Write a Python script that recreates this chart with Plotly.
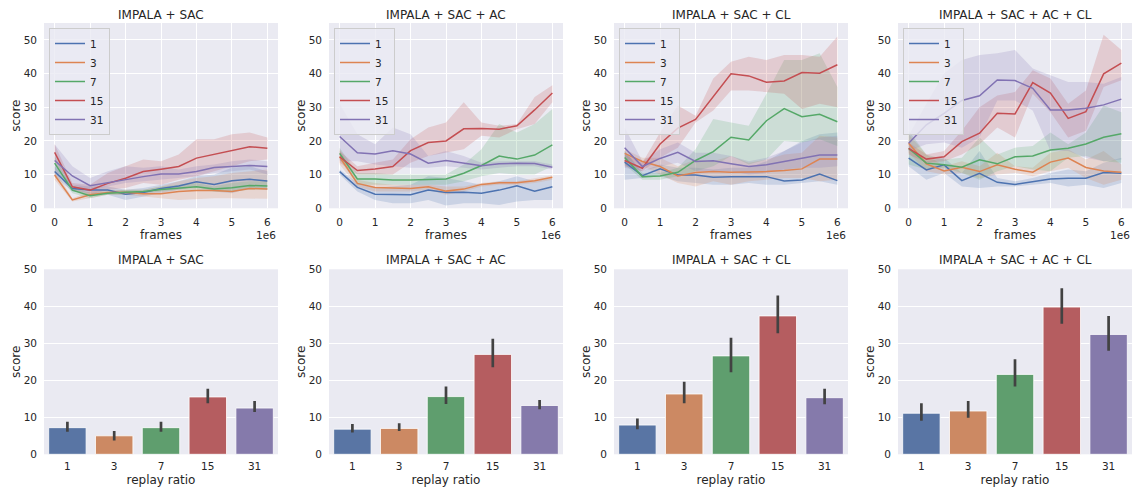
import plotly.graph_objects as go

W, H = 1134, 487

TITLES = ["IMPALA + SAC", "IMPALA + SAC + AC", "IMPALA + SAC + CL", "IMPALA + SAC + AC + CL"]
RATIOS = ["1", "3", "7", "15", "31"]
FRAMES = [0, 500000, 1000000, 1500000, 2000000, 2500000, 3000000,
          3500000, 4000000, 4500000, 5000000, 5500000, 6000000]
FRAME_TICKS = [0, 1000000, 2000000, 3000000, 4000000, 5000000, 6000000]
FRAME_TICKTEXT = ["0", "1", "2", "3", "4", "5", "6"]
LINE_COLORS = ["#4c72b0", "#dd8452", "#55a868", "#c44e52", "#8172b3"]
BAND_COLORS = ["rgba(76,114,176,0.2)", "rgba(221,132,82,0.2)", "rgba(85,168,104,0.2)",
               "rgba(196,78,82,0.2)", "rgba(129,114,179,0.2)"]
BAR_COLORS = ["#5975a4", "#cc8963", "#5f9e6e", "#b55d60", "#857aab"]

# ---- IMPALA + SAC (learning curves) ----
P1_MEAN = [
    [10.9, 5.9, 5.4, 5.4, 4.2, 4.7, 5.9, 6.6, 7.9, 7.1, 8.2, 8.6, 8.1],
    [9.9, 2.5, 4.0, 4.7, 4.8, 4.3, 4.3, 5.0, 5.3, 5.3, 5.0, 5.9, 5.7],
    [13.4, 5.4, 3.7, 4.5, 4.8, 5.0, 5.6, 6.1, 6.4, 5.7, 6.1, 6.8, 6.6],
    [16.6, 6.4, 5.4, 7.4, 8.9, 10.9, 11.6, 12.4, 14.9, 16.1, 17.3, 18.3, 17.8],
    [14.2, 9.6, 6.7, 7.6, 8.7, 9.4, 10.2, 10.2, 10.9, 12.1, 12.4, 12.7, 12.4],
]
P1_LO = [
    [9.5, 5.0, 4.5, 4.0, 2.5, 3.5, 4.5, 5.5, 6.5, 5.0, 4.5, 6.0, 5.5],
    [8.5, 2.0, 3.0, 4.0, 4.0, 3.5, 3.0, 2.5, 2.8, 3.0, 3.0, 3.0, 2.8],
    [11.5, 4.5, 3.0, 4.0, 4.0, 4.5, 5.0, 5.5, 5.5, 5.0, 5.0, 5.5, 5.5],
    [14.0, 5.5, 4.0, 5.5, 6.0, 7.5, 7.0, 8.5, 9.5, 11.0, 12.5, 14.0, 14.5],
    [10.0, 7.0, 5.5, 6.5, 7.5, 8.0, 8.5, 9.0, 9.5, 10.5, 11.0, 11.5, 10.0],
]
P1_HI = [
    [12.5, 7.0, 6.5, 6.5, 5.5, 6.0, 7.0, 8.0, 9.5, 10.0, 12.0, 12.5, 11.0],
    [11.5, 3.0, 5.0, 5.5, 5.5, 5.5, 6.5, 8.0, 9.0, 9.5, 10.5, 11.0, 11.5],
    [15.5, 6.5, 4.5, 5.0, 5.5, 5.5, 6.5, 7.0, 7.5, 6.5, 7.5, 8.0, 8.0],
    [19.0, 7.5, 7.0, 10.5, 12.5, 14.5, 14.0, 16.0, 20.5, 20.5, 22.0, 22.5, 21.0],
    [19.0, 12.5, 9.0, 11.0, 12.5, 12.0, 12.5, 11.5, 12.5, 13.0, 14.0, 14.5, 14.0],
]

# ---- IMPALA + SAC + AC ----
P2_MEAN = [
    [10.9, 6.2, 4.2, 4.2, 4.0, 5.4, 4.7, 4.8, 4.5, 5.4, 6.7, 5.1, 6.4],
    [15.3, 7.4, 6.2, 6.1, 5.9, 6.4, 5.1, 5.7, 7.1, 7.6, 7.6, 8.2, 9.2],
    [16.3, 8.7, 8.7, 8.4, 8.4, 8.6, 8.7, 10.4, 12.7, 15.5, 14.6, 15.8, 18.8],
    [15.3, 11.2, 11.7, 12.4, 17.1, 19.5, 20.0, 23.6, 23.7, 23.5, 24.5, 29.2, 34.2],
    [21.3, 16.5, 16.1, 17.1, 16.1, 13.4, 14.2, 13.4, 12.6, 13.2, 13.4, 13.3, 12.2],
]
P2_LO = [
    [10.0, 5.0, 2.5, 1.5, 1.5, 2.5, 0.8, 1.5, 1.5, 1.0, 2.0, 2.5, 2.5],
    [13.0, 6.5, 5.0, 5.0, 5.0, 5.5, 4.0, 5.0, 6.5, 7.0, 7.0, 7.5, 8.5],
    [14.5, 7.0, 7.0, 7.0, 7.0, 7.0, 7.0, 8.0, 9.5, 10.5, 10.0, 10.0, 12.5],
    [13.5, 10.0, 10.0, 10.0, 13.5, 15.5, 16.5, 17.5, 21.5, 21.0, 23.5, 25.0, 31.5],
    [14.0, 14.0, 13.0, 12.5, 12.0, 12.0, 12.5, 12.0, 11.5, 12.0, 12.5, 12.5, 11.5],
]
P2_HI = [
    [11.5, 7.5, 6.0, 6.5, 7.0, 9.5, 9.0, 8.0, 7.0, 8.0, 9.5, 8.0, 9.0],
    [17.5, 8.5, 7.5, 7.0, 7.0, 7.0, 6.5, 6.5, 7.5, 8.0, 8.0, 9.0, 9.8],
    [18.0, 10.5, 10.5, 10.0, 10.0, 10.0, 10.0, 13.0, 17.5, 25.0, 22.5, 25.0, 29.5],
    [17.0, 12.5, 13.5, 14.5, 20.5, 24.0, 25.5, 31.5, 25.5, 24.5, 25.0, 33.0, 36.5],
    [31.0, 22.0, 19.0, 24.0, 22.0, 15.5, 17.0, 15.5, 13.5, 14.0, 14.0, 14.0, 13.0],
]

# ---- IMPALA + SAC + CL ----
P3_MEAN = [
    [13.7, 9.7, 11.7, 9.9, 9.9, 9.2, 9.4, 9.4, 9.4, 8.1, 8.4, 10.2, 8.2],
    [16.3, 13.9, 12.4, 9.6, 10.6, 10.9, 10.7, 10.7, 10.9, 11.2, 11.7, 14.6, 14.6],
    [15.1, 9.4, 9.6, 10.7, 14.2, 16.8, 21.1, 20.3, 26.0, 29.6, 27.2, 27.9, 25.7],
    [14.2, 11.9, 19.1, 23.8, 26.4, 33.2, 39.9, 39.3, 37.4, 37.8, 40.3, 40.1, 42.6],
    [18.0, 12.4, 14.8, 16.6, 13.9, 14.1, 13.2, 12.4, 12.9, 13.9, 14.9, 15.8, 15.8],
]
P3_LO = [
    [8.5, 9.0, 9.5, 8.0, 7.5, 7.0, 7.0, 7.5, 7.0, 7.0, 7.5, 8.0, 7.0],
    [15.0, 12.5, 10.0, 7.5, 6.5, 8.0, 7.0, 8.0, 8.5, 9.0, 9.0, 8.0, 8.5],
    [13.0, 8.5, 8.5, 9.5, 11.0, 12.5, 15.5, 13.0, 14.5, 20.0, 19.5, 20.5, 18.5],
    [12.5, 11.0, 15.0, 18.0, 25.5, 29.0, 35.0, 35.0, 34.5, 34.0, 29.5, 31.0, 30.0],
    [12.0, 11.0, 12.5, 13.5, 11.0, 11.0, 11.0, 10.0, 10.5, 11.5, 12.0, 12.0, 12.5],
]
P3_HI = [
    [17.0, 11.0, 13.0, 12.0, 12.0, 11.5, 12.0, 12.0, 14.0, 17.0, 20.0, 22.0, 22.5],
    [17.5, 15.0, 15.0, 12.5, 14.5, 14.0, 15.5, 13.5, 14.5, 16.0, 16.5, 21.5, 21.0],
    [17.0, 10.5, 10.5, 12.0, 17.5, 26.5, 25.5, 24.5, 34.0, 44.0, 44.0, 46.0, 36.0],
    [16.0, 13.5, 22.5, 30.5, 27.5, 38.5, 43.5, 45.0, 44.0, 45.5, 45.5, 45.0, 51.0],
    [24.0, 14.0, 17.5, 19.5, 16.5, 16.5, 15.5, 14.0, 15.0, 17.0, 19.5, 21.0, 21.5],
]

# ---- IMPALA + SAC + AC + CL ----
P4_MEAN = [
    [14.9, 11.4, 12.9, 8.2, 10.4, 7.7, 7.1, 7.9, 8.7, 8.9, 8.9, 10.6, 10.4],
    [19.3, 13.2, 11.1, 12.2, 10.9, 12.9, 11.6, 10.7, 13.7, 14.9, 12.1, 11.1, 10.7],
    [17.8, 13.4, 12.9, 12.2, 14.4, 13.2, 15.3, 15.5, 17.3, 17.8, 19.1, 21.1, 22.1],
    [17.8, 14.6, 15.3, 19.8, 22.3, 28.2, 28.0, 37.3, 34.2, 26.7, 28.7, 39.9, 43.1],
    [19.3, 24.8, 28.2, 32.0, 33.4, 38.1, 37.9, 35.6, 29.2, 29.2, 29.7, 30.7, 32.4],
]
P4_LO = [
    [12.5, 8.5, 10.5, 6.5, 6.0, 6.5, 6.5, 7.0, 7.5, 6.5, 7.0, 6.0, 7.5],
    [16.5, 11.0, 10.0, 10.5, 9.0, 10.0, 10.5, 9.5, 11.0, 12.0, 9.0, 7.0, 8.5],
    [13.0, 11.5, 12.0, 10.5, 8.5, 11.0, 12.5, 11.5, 11.0, 15.0, 15.5, 14.0, 13.5],
    [16.0, 13.5, 14.0, 16.0, 19.0, 24.0, 21.0, 34.0, 28.5, 21.0, 23.0, 36.0, 38.0],
    [17.0, 19.0, 19.5, 18.0, 21.0, 32.0, 32.0, 29.0, 17.0, 17.0, 15.0, 14.0, 14.5],
]
P4_HI = [
    [17.5, 14.0, 15.0, 10.5, 17.0, 9.0, 8.0, 9.0, 10.5, 11.5, 11.0, 13.5, 15.0],
    [22.0, 16.0, 12.5, 14.0, 12.5, 16.5, 12.5, 12.0, 16.5, 17.5, 14.5, 17.0, 13.0],
    [23.0, 16.0, 14.5, 15.0, 21.0, 16.0, 18.0, 18.5, 22.5, 19.0, 22.5, 30.5, 28.5],
    [19.5, 16.0, 17.0, 23.0, 30.0, 33.5, 34.5, 41.0, 38.5, 31.0, 35.0, 51.5, 47.0],
    [21.5, 31.0, 40.0, 44.0, 45.5, 46.0, 47.0, 41.5, 39.5, 37.5, 37.5, 37.0, 39.0],
]

# ---- final scores (bar charts) ----
BAR_MEAN = [
    [7.2, 5.0, 7.2, 15.5, 12.5],
    [6.8, 7.0, 15.6, 27.0, 13.2],
    [7.9, 16.3, 26.6, 37.4, 15.3],
    [11.1, 11.7, 21.6, 39.8, 32.4],
]
BAR_LO = [
    [6.1, 3.7, 6.1, 13.8, 11.4],
    [5.9, 6.3, 13.6, 23.5, 12.2],
    [6.8, 13.8, 22.2, 32.7, 13.5],
    [9.1, 9.9, 18.3, 35.3, 28.0],
]
BAR_HI = [
    [8.8, 6.3, 8.8, 17.7, 14.4],
    [8.2, 8.4, 18.3, 31.2, 14.7],
    [9.7, 19.6, 31.5, 42.9, 17.7],
    [13.8, 14.4, 25.7, 44.9, 37.4],
]

CURVE_MEANS = [P1_MEAN, P2_MEAN, P3_MEAN, P4_MEAN]
CURVE_LOS = [P1_LO, P2_LO, P3_LO, P4_LO]
CURVE_HIS = [P1_HI, P2_HI, P3_HI, P4_HI]

# ---- layout geometry (pixels) ----
COL_X = [(44, 278), (329, 563), (614, 848), (898, 1132)]
TOP_Y = (23, 208.3)
BOT_Y = (269.3, 454.3)
TEXT = "#262626"
FONT = "DejaVu Sans"


def px_x(v):
    return v / W


def px_y(v):
    return 1 - v / H


fig = go.Figure()
layout = dict(
    width=W, height=H, autosize=False,
    margin=dict(l=0, r=0, t=0, b=0, pad=0, autoexpand=False),
    paper_bgcolor="white",
    plot_bgcolor="#eaeaf2",
    font=dict(family=FONT, size=10.5, color=TEXT),
    annotations=[],
)

for p in range(4):
    top_idx = p + 1
    bot_idx = p + 5
    xk_t = "x" if top_idx == 1 else f"x{top_idx}"
    yk_t = "y" if top_idx == 1 else f"y{top_idx}"
    xk_b, yk_b = f"x{bot_idx}", f"y{bot_idx}"
    leg = "legend" if p == 0 else f"legend{p + 1}"

    means, los, his = CURVE_MEANS[p], CURVE_LOS[p], CURVE_HIS[p]
    for s in range(5):
        fig.add_trace(go.Scatter(
            x=FRAMES + FRAMES[::-1], y=his[s] + los[s][::-1],
            fill="toself", fillcolor=BAND_COLORS[s], line=dict(width=0),
            mode="lines", hoverinfo="skip", showlegend=False,
            xaxis=xk_t, yaxis=yk_t))
    for s in range(5):
        fig.add_trace(go.Scatter(
            x=FRAMES, y=means[s], mode="lines", name=RATIOS[s],
            line=dict(color=LINE_COLORS[s], width=1.5),
            legend=leg, showlegend=True, xaxis=xk_t, yaxis=yk_t))

    mean_b = BAR_MEAN[p]
    fig.add_trace(go.Bar(
        x=RATIOS, y=mean_b, width=0.8,
        marker=dict(color=BAR_COLORS, line=dict(color="white", width=0.8)),
        error_y=dict(type="data", symmetric=False,
                     array=[h - m for h, m in zip(BAR_HI[p], mean_b)],
                     arrayminus=[m - l for m, l in zip(mean_b, BAR_LO[p])],
                     color="#424242", thickness=2.7, width=0),
        showlegend=False, xaxis=xk_b, yaxis=yk_b))

    x0, x1 = COL_X[p]
    dom_x = [px_x(x0), px_x(x1)]
    common_y = dict(showline=False, zeroline=False, gridcolor="white", gridwidth=1,
                    ticks="", tickfont=dict(size=10.5, color=TEXT), automargin=False,
                    ticklabelstandoff=6,
                    title=dict(text="score", font=dict(size=12, color=TEXT), standoff=0))
    layout["xaxis" if top_idx == 1 else f"xaxis{top_idx}"] = dict(
        domain=dom_x, anchor=yk_t, range=[-300000, 6300000],
        tickvals=FRAME_TICKS, ticktext=FRAME_TICKTEXT, automargin=False,
        showline=False, zeroline=False, gridcolor="white", gridwidth=1, ticks="",
        tickfont=dict(size=10.5, color=TEXT), ticklabelstandoff=6,
        title=dict(text="frames", font=dict(size=12, color=TEXT), standoff=3))
    layout["yaxis" if top_idx == 1 else f"yaxis{top_idx}"] = dict(
        domain=[px_y(TOP_Y[1]), px_y(TOP_Y[0])], anchor=xk_t, range=[0, 55],
        tickvals=[0, 10, 20, 30, 40, 50], **common_y)
    layout[f"xaxis{bot_idx}"] = dict(
        domain=dom_x, anchor=yk_b, type="category", range=[-0.5, 4.5],
        showgrid=False, showline=False, zeroline=False, ticks="", automargin=False,
        tickfont=dict(size=10.5, color=TEXT), ticklabelstandoff=4,
        title=dict(text="replay ratio", font=dict(size=12, color=TEXT), standoff=4))
    layout[f"yaxis{bot_idx}"] = dict(
        domain=[px_y(BOT_Y[1]), px_y(BOT_Y[0])], anchor=xk_b, range=[0, 50],
        tickvals=[0, 10, 20, 30, 40, 50], **common_y)

    layout[leg] = dict(
        x=px_x(x0 + 5), y=px_y(TOP_Y[0] + 5), xanchor="left", yanchor="top",
        bgcolor="rgba(234,234,242,0.8)", bordercolor="#cccccc", borderwidth=1,
        font=dict(size=10.5, color=TEXT), tracegroupgap=0, itemwidth=30)

    cx = px_x((x0 + x1) / 2)
    layout["annotations"].append(dict(
        text=TITLES[p], x=cx, y=px_y(15), xref="paper", yref="paper",
        xanchor="center", yanchor="middle", showarrow=False,
        font=dict(size=12, color=TEXT)))
    layout["annotations"].append(dict(
        text=TITLES[p], x=cx, y=px_y(260), xref="paper", yref="paper",
        xanchor="center", yanchor="middle", showarrow=False,
        font=dict(size=12, color=TEXT)))
    layout["annotations"].append(dict(
        text="1e6", x=px_x(x1), y=px_y(235), xref="paper", yref="paper",
        xanchor="right", yanchor="middle", showarrow=False,
        font=dict(size=10.5, color=TEXT)))

fig.update_layout(**layout)
fig.write_html(
    "out.html",
    config={"displayModeBar": False},
    post_script="document.body.style.margin='0';document.body.style.overflow='hidden';",
)
